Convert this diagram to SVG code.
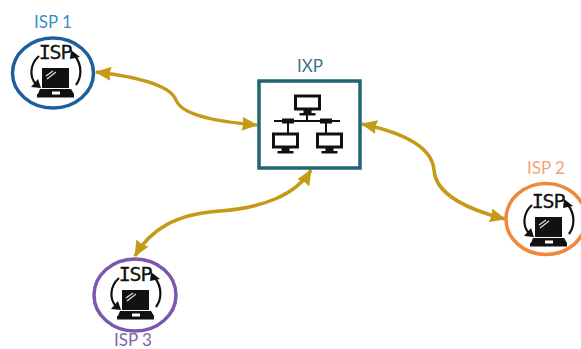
<svg xmlns="http://www.w3.org/2000/svg" width="581" height="349" viewBox="0 0 581 349">
<style>
.lbl{font-family:"Lato","Open Sans",sans-serif;font-size:17px;text-anchor:middle}
.isp{font-family:"DejaVu Sans Mono",monospace;font-size:20px;letter-spacing:-1.200px;fill:#111;text-anchor:middle;stroke:#111;stroke-width:.3px}
.ring{fill:#fff;stroke-width:3.5}
.conn{fill:none;stroke:#c49a16;stroke-width:3.500;marker-start:url(#ah);marker-end:url(#ah)}
.arc{fill:none;stroke:#111;stroke-width:2.200}
.k{fill:#111}
.scr{fill:#fff;stroke:#111;stroke-width:3}
</style>
<defs>
<marker id="ah" viewBox="0 0 16 14" refX="15" refY="7" markerUnits="userSpaceOnUse" markerWidth="16" markerHeight="14" orient="auto-start-reverse"><path d="M0 0L16 7L0 14L1.500 7Z" fill="#c49a16"/></marker>
<g id="icon">
<text class="isp" x="2" y="-11">ISP</text>
<path class="arc" d="M-14-14C-23-6-24 7-17 14"/><path class="k" d="M-12 18L-22 17L-15 9Z"/>
<path class="arc" d="M22-14C29-5 29 7 23 15"/><path class="k" d="M18-20L27-13L17-11Z"/>
<path class="k" d="M-11-2H16V18H-11Z"/>
<path d="M-7 6L0 1M-6 9L3 2" stroke="#ddd" stroke-width="1.300"/>
<path class="k" d="M-13 19H18L21 24H-15Z"/>
<path class="k" d="M-16 24H21V27.500H-16Z"/>
<path d="M-1 21.500H7V24.500H-1Z" fill="#fff"/>
</g>
<g id="pc">
<rect class="scr" x="-12" y="-6" width="24" height="13"/>
<path class="k" d="M-4 8H4V11H8V13.500H-8V11H-4Z"/>
</g>
</defs>
<g id="connectors">
<path class="conn" d="M96 72C130 76 170 84 176 100C182 116 220 122 257 125"/>
<path class="conn" d="M362 124C400 132 432 146 434 170C436 196 470 210 505 219"/>
<path class="conn" d="M311 170C296 195 262 208 220 211C175 214 150 230 135 256"/>
</g>
<g id="isp1">
<ellipse class="ring" cx="53" cy="73" rx="40.500" ry="35" stroke="#1c5f9c"/>
<use href="#icon" x="53" y="70"/>
<text class="lbl" x="53" y="28" fill="#3a8fc4">ISP 1</text>
</g>
<g id="isp2">
<ellipse class="ring" cx="546" cy="219" rx="40" ry="35.500" stroke="#f0873c"/>
<use href="#icon" x="546" y="219"/>
<text class="lbl" x="546" y="174" fill="#f2a477">ISP 2</text>
</g>
<g id="isp3">
<ellipse class="ring" cx="135" cy="295" rx="41" ry="36" stroke="#7a58ac"/>
<use href="#icon" x="133" y="292"/>
<text class="lbl" x="133" y="346" fill="#7d64ad">ISP 3</text>
</g>
<g id="ixp">
<rect x="259" y="81" width="101" height="87" fill="#fff" stroke="#1f6572" stroke-width="3.500"/>
<path d="M274 121H340M307 115V121M288 122V133M326 122V133" stroke="#111" stroke-width="2" fill="none"/>
<path class="k" d="M282 118.500H294V123.500H282ZM320 118.500H332V123.500H320Z"/>
<use href="#pc" x="307.500" y="102"/>
<use href="#pc" x="285.500" y="140"/>
<use href="#pc" x="329.500" y="140"/>
<text class="lbl" x="310" y="72" fill="#3d7585">IXP</text>
</g>
</svg>
